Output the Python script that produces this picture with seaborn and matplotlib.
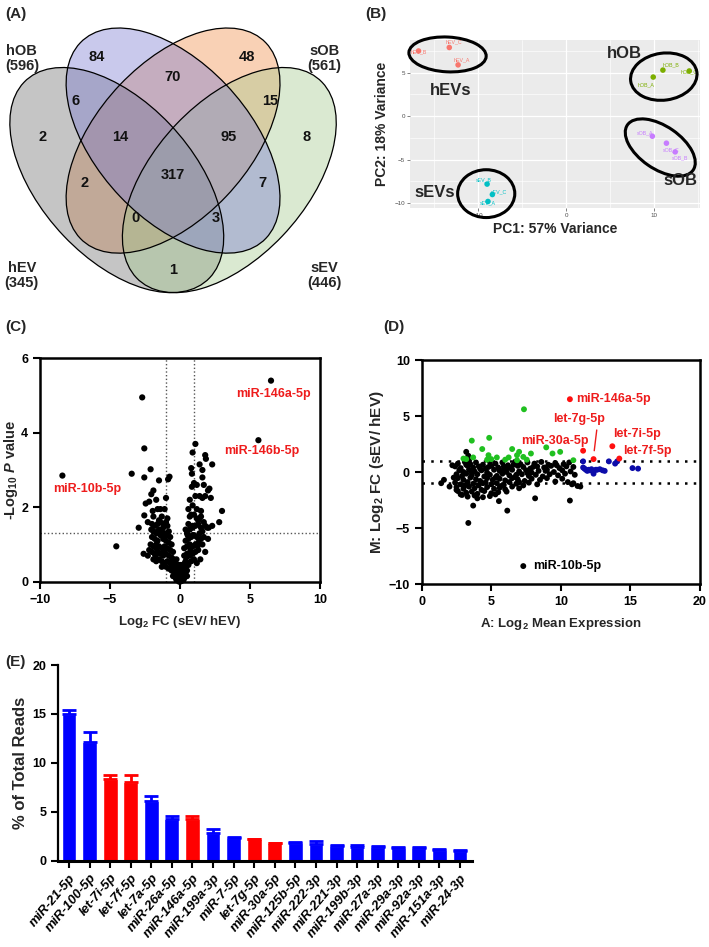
import numpy as np
import pandas as pd
import matplotlib
matplotlib.use('Agg')
import matplotlib.pyplot as plt
from matplotlib.patches import Ellipse
import seaborn as sns

# ---------------- data ----------------
# (A) Venn diagram
venn_names = ['hOB', 'sOB', 'hEV', 'sEV']
venn_totals = [596, 561, 345, 446]
venn_regions = ['hOB', 'sOB', 'hOB&sOB', 'hOB&hEV', 'sOB&sEV', 'hEV', 'hOB&sOB&hEV',
                'hOB&sOB&sEV', 'sEV', 'all', 'sOB&hEV', 'hOB&sEV', 'sOB&hEV&sEV',
                'hOB&hEV&sEV', 'hEV&sEV']
venn_counts = [84, 48, 70, 6, 15, 2, 14, 95, 8, 317, 2, 7, 0, 3, 1]

# (B) PCA
pca_samples = ['hEV_A', 'hEV_B', 'hEV_C', 'hOB_A', 'hOB_B', 'hOB_C',
               'sEV_A', 'sEV_B', 'sEV_C', 'sOB_A', 'sOB_B', 'sOB_C']
pca_group = ['hEV', 'hEV', 'hEV', 'hOB', 'hOB', 'hOB', 'sEV', 'sEV', 'sEV', 'sOB', 'sOB', 'sOB']
pc1 = [-12.3, -16.8, -13.3, 9.9, 11.0, 14.0, -8.9, -9.0, -8.4, 9.8, 12.4, 11.4]
pc2 = [5.9, 7.5, 7.9, 4.5, 5.3, 5.2, -9.8, -7.8, -9.0, -2.3, -4.1, -3.1]

# (C) volcano plot: (log2 FC, -log10 P)
volcano_pts = [
    (6.5, 5.4), (5.6, 3.8), (-8.4, 2.85),
    (-2.7, 4.95), (-2.55, 3.58), (-3.45, 2.9), (-2.55, 2.8), (-2.1, 3.02), (-4.55, 0.95),
    (-2.95, 1.45), (-2.6, 0.75), (-0.75, 2.82), (-0.85, 2.75), (-1.5, 2.72), (-2.45, 2.1),
    (-2.55, 1.78), (-2.2, 2.15), (-2.05, 2.35), (-1.9, 2.45), (-1.95, 1.9), (-1.7, 2.2),
    (-1.6, 1.95), (-1.4, 1.95), (-1.1, 1.95), (-1.0, 2.25), (-2.3, 1.6), (-1.9, 1.75),
    (-1.3, 1.75), (-0.9, 1.7), (-1.5, 1.65),
    (3.0, 1.9), (2.8, 1.6), (1.8, 0.8), (2.3, 3.15), (1.1, 3.7), (0.9, 3.47), (1.8, 3.4),
    (1.85, 3.3), (1.4, 3.15), (1.6, 3.0), (0.8, 3.05), (0.85, 2.9), (1.6, 2.8), (1.0, 2.65),
    (0.85, 2.55), (1.2, 2.6), (2.1, 2.5), (2.0, 2.45), (1.4, 2.3), (1.6, 2.25), (1.8, 2.3),
    (2.2, 2.25), (0.7, 2.2), (0.9, 2.05), (1.2, 1.95), (1.5, 1.9), (1.5, 1.75), (1.95, 1.45),
    (2.05, 1.45), (1.7, 1.2), (0.9, 1.5), (0.8, 1.8), (1.3, 1.65), (2.3, 1.5), (0.6, 1.95),
    (1.1, 2.3), (1.7, 2.6), (2.0, 1.15),
    (-2.0, 1.55), (-1.8, 1.5), (-1.6, 1.55), (-1.4, 1.6), (-1.2, 1.55), (-1.0, 1.6),
    (-0.9, 1.5), (-1.9, 1.35), (-1.7, 1.3), (-1.5, 1.4), (-1.3, 1.35), (-1.1, 1.3),
    (-0.8, 1.35), (-2.0, 1.2), (-1.8, 1.15), (-1.6, 1.1), (-1.2, 1.15), (-1.0, 1.1),
    (-0.7, 1.2), (-2.1, 1.0), (-1.9, 0.95), (-1.7, 0.9), (-1.5, 0.95), (-1.3, 0.9),
    (-1.1, 0.95), (-0.9, 0.9), (-0.6, 1.0), (-2.0, 0.8), (-1.8, 0.75), (-1.6, 0.8),
    (-1.4, 0.75), (-1.2, 0.7), (-1.0, 0.75), (-0.8, 0.7), (-0.5, 0.8), (-2.2, 0.85),
    (-1.9, 0.6), (-1.7, 0.55), (-1.5, 0.6), (-1.3, 0.55), (-1.1, 0.5), (-0.9, 0.55),
    (-0.7, 0.5), (-0.6, 0.65), (-1.2, 1.45), (-0.8, 1.05), (-1.4, 1.25), (-1.7, 1.0),
    (-2.3, 0.7), (-1.0, 0.4), (-0.8, 0.35), (-1.3, 0.4), (-0.6, 0.3), (-1.6, 1.35),
    (-0.95, 1.25), (-1.15, 0.85), (-0.7, 0.85), (-2.05, 1.4), (-1.75, 0.7),
    (0.5, 1.3), (0.7, 1.4), (0.9, 1.45), (1.1, 1.5), (1.3, 1.55), (1.5, 1.45), (1.7, 1.6),
    (0.4, 1.1), (0.6, 1.15), (0.8, 1.2), (1.0, 1.25), (1.2, 1.2), (1.4, 1.3), (1.6, 1.35),
    (0.3, 0.9), (0.5, 0.95), (0.7, 1.0), (0.9, 0.95), (1.1, 1.0), (1.3, 1.05), (1.5, 1.15),
    (0.3, 0.7), (0.5, 0.75), (0.7, 0.7), (0.9, 0.75), (1.1, 0.8), (1.3, 0.85), (0.4, 0.55),
    (0.6, 0.5), (0.8, 0.55), (1.0, 0.6), (1.2, 0.5), (0.2, 0.45), (0.7, 1.75), (1.0, 1.8),
    (1.2, 1.7), (0.6, 1.55), (0.9, 1.25), (1.4, 1.7), (0.4, 1.4), (1.8, 1.5), (1.6, 1.0),
    (0.55, 1.25), (1.25, 0.95), (0.75, 0.85), (1.45, 0.6),
    (-0.6, 0.45), (-0.4, 0.4), (-0.2, 0.35), (0.0, 0.3), (0.2, 0.35), (0.4, 0.4), (0.6, 0.45),
    (-0.5, 0.3), (-0.3, 0.25), (-0.1, 0.2), (0.1, 0.2), (0.3, 0.25), (0.5, 0.3), (-0.4, 0.2),
    (-0.2, 0.15), (0.0, 0.12), (0.2, 0.15), (0.4, 0.2), (-0.3, 0.1), (-0.1, 0.07), (0.1, 0.07),
    (0.3, 0.1), (-0.15, 0.03), (0.0, 0.02), (0.15, 0.03), (-0.05, 0.0), (0.05, 0.01),
    (-0.25, 0.05), (0.25, 0.05), (-0.5, 0.15), (0.5, 0.15), (-0.35, 0.5), (0.35, 0.5),
    (-0.15, 0.45), (0.15, 0.45), (0.0, 0.45), (-0.45, 0.6), (0.45, 0.65), (-0.25, 0.6),
]
volcano_labels = ['miR-146a-5p', 'miR-146b-5p', 'miR-10b-5p']
volcano_label_xy = [(6.7, 5.05), (5.85, 3.5), (-6.6, 2.48)]

# (D) MA plot: (A, M) per group
ma_black = [
    (2.6, 0.75), (3.1, 0.9), (3.5, 0.7), (3.9, 0.85), (4.4, 0.65), (4.9, 0.9), (5.3, 0.75),
    (5.8, 0.85), (6.2, 0.6), (6.7, 0.9), (7.1, 0.7), (7.6, 0.85), (8.1, 0.75), (8.6, 0.9),
    (9.1, 0.65), (9.6, 0.8), (10.2, 0.7), (10.6, 0.85),
    (2.4, 0.5), (2.8, 0.35), (3.3, 0.55), (3.7, 0.4), (4.1, 0.5), (4.6, 0.3), (5.0, 0.55),
    (5.5, 0.4), (5.9, 0.5), (6.4, 0.35), (6.9, 0.55), (7.3, 0.45), (7.8, 0.3), (8.3, 0.5),
    (8.8, 0.4), (9.3, 0.55), (9.9, 0.35), (10.4, 0.5), (10.9, 0.45),
    (2.7, 0.15), (3.0, 0.0), (3.4, 0.2), (3.8, 0.05), (4.3, 0.15), (4.7, -0.05), (5.2, 0.2),
    (5.6, 0.1), (6.1, 0.0), (6.5, 0.2), (7.0, 0.05), (7.5, 0.15), (7.9, -0.05), (8.4, 0.1),
    (9.0, 0.2), (9.5, 0.0), (10.1, 0.15), (10.7, 0.05),
    (2.5, -0.2), (2.9, -0.35), (3.2, -0.15), (3.6, -0.3), (4.0, -0.2), (4.5, -0.4),
    (4.9, -0.25), (5.4, -0.35), (5.8, -0.15), (6.3, -0.3), (6.7, -0.45), (7.2, -0.2),
    (7.7, -0.35), (8.2, -0.25), (8.7, -0.4), (9.2, -0.2), (9.8, -0.3), (10.3, -0.15),
    (11.0, -0.25),
    (2.6, -0.55), (3.0, -0.7), (3.5, -0.5), (3.9, -0.65), (4.2, -0.8), (4.7, -0.55),
    (5.1, -0.7), (5.6, -0.6), (6.0, -0.75), (6.5, -0.55), (6.9, -0.65), (7.4, -0.8),
    (7.9, -0.6), (8.5, -0.7), (9.0, -0.55), (9.6, -0.85), (10.1, -0.6),
    (2.4, -0.95), (2.8, -1.1), (3.3, -0.9), (3.7, -1.05), (4.1, -1.2), (4.6, -0.95),
    (5.0, -1.1), (5.4, -1.0), (5.9, -1.15), (6.3, -0.9), (6.8, -1.05), (7.3, -1.2),
    (7.7, -0.95), (8.3, -1.1), (10.5, -0.9), (10.8, -1.1), (11.2, -1.25),
    (2.5, -1.35), (3.0, -1.5), (3.4, -1.3), (3.8, -1.45), (4.3, -1.6), (4.7, -1.35),
    (5.2, -1.5), (5.6, -1.4), (6.0, -1.55), (6.5, -1.3), (7.0, -1.45),
    (2.6, -1.7), (3.2, -1.85), (3.6, -1.75), (4.0, -1.95), (4.5, -1.7), (5.0, -1.9),
    (5.5, -1.8), (6.1, -1.75),
    (2.9, -2.05), (3.3, -2.2), (3.8, -2.1), (4.4, -2.25), (4.9, -2.15), (5.3, -2.0),
    (2.2, 0.6), (2.3, -0.5), (3.2, 0.65), (4.2, 0.3), (5.3, -0.5), (6.1, 0.35), (7.0, -0.9),
    (8.0, 0.45), (3.6, -0.05), (4.8, 0.45), (5.7, -1.25), (6.6, 0.65), (7.6, -0.1),
    (8.9, 0.1), (9.7, 0.6), (4.4, -1.0), (3.1, -1.2), (5.9, 0.25), (6.8, -0.25), (3.4, 1.0),
    (1.4, -1.0), (1.6, -0.7), (2.0, -1.3), (2.5, -1.6), (2.8, -2.0), (3.2, 1.8), (3.35, 1.45),
    (3.35, -4.55), (3.7, -3.0), (4.0, -2.35), (5.55, -2.6), (6.15, -3.45), (8.15, -2.35),
    (10.65, -2.55), (11.4, -1.3), (10.9, -1.0), (7.3, -8.4),
]
ma_green = [
    (7.35, 5.6), (3.6, 2.8), (4.85, 3.05), (4.35, 2.05), (8.95, 2.2), (9.95, 1.8), (9.4, 1.65),
    (7.85, 1.65), (6.5, 2.05), (7.0, 1.8), (3.0, 1.2), (3.2, 1.15), (3.7, 1.3), (4.8, 1.5),
    (5.0, 1.15), (5.4, 1.3), (6.0, 1.1), (6.25, 1.3), (6.85, 1.5), (6.85, 1.05), (7.3, 1.35),
    (7.55, 1.1), (10.9, 1.05), (4.7, 1.1),
]
ma_blue = [
    (11.6, 0.95), (11.7, 0.3), (11.8, 0.2), (11.9, 0.1), (12.0, 0.2), (12.1, 0.15),
    (12.2, 0.25), (12.3, 0.1), (12.35, -0.15), (12.5, 0.2), (12.6, 0.2), (12.8, 0.25),
    (13.0, 0.15), (13.15, 0.1), (13.45, 0.95), (13.9, 0.75), (14.05, 0.95), (15.15, 0.35),
    (15.55, 0.3), (11.6, 0.4),
]
ma_red = [(10.65, 6.5), (12.35, 1.15), (11.6, 1.9), (13.7, 2.3), (14.2, 1.2)]
ma_red_names = ['miR-146a-5p', 'let-7g-5p', 'miR-30a-5p', 'let-7i-5p', 'let-7f-5p']

# (E) most abundant miRNAs in sEV
top_mirna = ['miR-21-5p', 'miR-100-5p', 'let-7i-5p', 'let-7f-5p', 'let-7a-5p', 'miR-26a-5p',
             'miR-146a-5p', 'miR-199a-3p', 'miR-7-5p', 'let-7g-5p', 'miR-30a-5p',
             'miR-125b-5p', 'miR-222-3p', 'miR-221-3p', 'miR-199b-3p', 'miR-27a-3p',
             'miR-29a-3p', 'miR-92a-3p', 'miR-151a-3p', 'miR-24-3p']
pct_reads = [15.0, 12.1, 8.3, 8.0, 6.1, 4.3, 4.3, 2.8, 2.3, 2.2, 1.8, 1.8, 1.75, 1.5, 1.45,
             1.4, 1.3, 1.3, 1.1, 1.0]
pct_err = [0.4, 1.1, 0.5, 0.8, 0.5, 0.3, 0.3, 0.4, 0.08, 0.05, 0.05, 0.15, 0.3, 0.1, 0.2,
           0.1, 0.08, 0.05, 0.12, 0.1]
highlighted = ['let-7i-5p', 'let-7f-5p', 'miR-146a-5p', 'let-7g-5p', 'miR-30a-5p']

# ---------------- style ----------------
sns.set_theme(style='ticks')
plt.rcParams['font.family'] = ['Liberation Sans', 'DejaVu Sans']
plt.rcParams['font.weight'] = 'bold'
plt.rcParams['axes.labelweight'] = 'bold'
plt.rcParams['mathtext.fontset'] = 'custom'
plt.rcParams['mathtext.rm'] = 'Liberation Sans:bold'
plt.rcParams['mathtext.it'] = 'Liberation Sans:bold:italic'
plt.rcParams['mathtext.bf'] = 'Liberation Sans:bold'

W, H = 709, 947
fig = plt.figure(figsize=(W / 100, H / 100), dpi=100)


def px_axes(x0, y0, x1, y1):
    # axes from pixel box (top-left origin)
    return fig.add_axes([x0 / W, 1 - y1 / H, (x1 - x0) / W, (y1 - y0) / H])


def style_prism(ax):
    for s in ax.spines.values():
        s.set_linewidth(1.8)
        s.set_color('black')
    ax.tick_params(width=1.5, length=5, labelsize=9, colors='black', direction='out')
    for lab in ax.get_xticklabels() + ax.get_yticklabels():
        lab.set_fontweight('bold')


# ---------------- (A) Venn ----------------
axA = px_axes(0, 0, 355, 310)
axA.set_xlim(0.0387, 0.985)
axA.set_ylim(0.071, 0.856)
axA.axis('off')
# draw order: sOB, hEV, sEV, hOB (hOB tint on top)
venn_geom = {'hOB': ((0.5, 0.5), -45), 'sOB': ((0.5, 0.5), 45),
             'hEV': ((0.35, 0.4), -45), 'sEV': ((0.65, 0.4), 45)}
venn_colors = {'hOB': '#7878d0', 'sOB': '#f08c48', 'hEV': '#6e6e6e', 'sEV': '#a4c88c'}
for nm in ['sOB', 'hEV', 'sEV', 'hOB']:
    c, ang = venn_geom[nm]
    axA.add_patch(Ellipse(c, 0.7, 0.4, angle=ang, facecolor=venn_colors[nm], alpha=0.4,
                          edgecolor='none'))
for nm in venn_names:
    c, ang = venn_geom[nm]
    axA.add_patch(Ellipse(c, 0.7, 0.4, angle=ang, facecolor='none', edgecolor='black', lw=0.9))
region_pos = [(0.297, 0.712), (0.697, 0.712), (0.5, 0.661), (0.241, 0.600), (0.759, 0.600),
              (0.151, 0.509), (0.359, 0.509), (0.649, 0.509), (0.855, 0.509), (0.5, 0.413),
              (0.265, 0.393), (0.737, 0.393), (0.401, 0.304), (0.615, 0.304), (0.5, 0.172)]
for (u, v), n in zip(region_pos, venn_counts):
    axA.text(u, v, str(n), ha='center', va='center', fontsize=10.5, fontweight='bold', color='#111111')
name_pos = [(0.097, 0.708), (0.903, 0.708), (0.097, 0.158), (0.903, 0.158)]
for (u, v), nm, tot in zip(name_pos, venn_names, venn_totals):
    axA.text(u, v, f'{nm}\n({tot})', ha='center', va='center', fontsize=10.5,
             fontweight='bold', linespacing=1.1)
fig.text(5 / W, 1 - 14 / H, '(A)', fontsize=11, fontweight='bold', va='center')

# ---------------- (B) PCA ----------------
axB = px_axes(410, 40, 700, 208)
pca_df = pd.DataFrame({'PC1': pc1, 'PC2': pc2, 'group': pca_group, 'sample': pca_samples})
gg_pal = {'hEV': '#F8766D', 'hOB': '#7CAE00', 'sEV': '#00BFC4', 'sOB': '#C77CFF'}
axB.set_facecolor('#EBEBEB')
axB.set_xlim(-17.77, 15.22)
axB.set_ylim(-10.55, 8.76)
axB.set_xticks([-15, -5, 5, 15], minor=True)
axB.set_yticks([-7.5, -2.5, 2.5, 7.5], minor=True)
axB.grid(True, which='major', color='white', lw=0.9)
axB.grid(True, which='minor', color='white', lw=0.45)
axB.set_axisbelow(True)
sns.scatterplot(data=pca_df, x='PC1', y='PC2', hue='group', palette=gg_pal, s=16,
                edgecolor='none', legend=False, ax=axB, zorder=3)
lab_dx = [0.4, 0.0, 0.5, -0.8, 0.9, 0.0, 0.0, -0.4, 0.8, -0.8, 0.5, 0.6]
lab_dy = [0.6, -0.1, 0.7, -0.9, 0.6, -0.1, -0.2, 0.5, 0.3, 0.4, -0.7, -0.8]
for x, y, nm, g, dx, dy in zip(pc1, pc2, pca_samples, pca_group, lab_dx, lab_dy):
    axB.text(x + dx, y + dy, nm, color=gg_pal[g], fontsize=3.8, fontweight='normal',
             ha='center', va='center', zorder=4)
for c, w, h, a in [((-13.5, 7.1), 8.8, 4.0, -3), ((11.1, 4.55), 7.6, 5.4, 8),
                   ((10.7, -3.6), 9.1, 4.9, -35), ((-9.1, -8.9), 6.5, 5.5, 0)]:
    axB.add_patch(Ellipse(c, w, h, angle=a, facecolor='none', edgecolor='black', lw=2.2,
                          clip_on=False, zorder=5))
for x, y, t in [(-13.1, 3.0, 'hEVs'), (6.6, 7.25, 'hOB'), (13.05, -7.35, 'sOB'),
                (-15.0, -8.75, 'sEVs')]:
    axB.text(x, y, t, fontsize=12, fontweight='bold', ha='center', va='center', zorder=6)
for s in axB.spines.values():
    s.set_visible(False)
axB.set_xticks([-10, 0, 10])
axB.set_yticks([-10, -5, 0, 5])
axB.tick_params(which='major', length=2, width=0.5, colors='#4d4d4d', labelsize=4.5, pad=1.5)
axB.tick_params(which='minor', length=0)
for lab in axB.get_xticklabels() + axB.get_yticklabels():
    lab.set_fontweight('normal')
axB.set_xlabel('PC1: 57% Variance', fontsize=10, fontweight='bold', labelpad=3)
axB.set_ylabel('PC2: 18% Variance', fontsize=10, fontweight='bold', labelpad=4)
fig.text(365 / W, 1 - 14 / H, '(B)', fontsize=11, fontweight='bold', va='center')

# ---------------- (C) Volcano ----------------
axC = px_axes(40, 358.3, 320, 581.7)
volc_df = pd.DataFrame(volcano_pts, columns=['log2fc', 'nlogp'])
sns.scatterplot(data=volc_df, x='log2fc', y='nlogp', color='black', s=20, edgecolor='none',
                ax=axC, zorder=3, clip_on=False)
axC.axvline(-1, color='#555555', ls=':', lw=1.0)
axC.axvline(1, color='#555555', ls=':', lw=1.0)
axC.axhline(1.3, color='#555555', ls=':', lw=1.0)
for (x, y), t in zip(volcano_label_xy, volcano_labels):
    axC.text(x, y, t, color='#ee1c1c', fontsize=9, fontweight='bold', ha='center', va='center')
axC.set_xlim(-10, 10)
axC.set_ylim(0, 6)
axC.set_xticks([-10, -5, 0, 5, 10])
axC.set_yticks([0, 2, 4, 6])
style_prism(axC)
axC.set_xlabel(r'Log$_{2}$ FC (sEV/ hEV)', fontsize=9.5, labelpad=6)
axC.set_ylabel(r'-Log$_{10}$ $\it{P}$ value', fontsize=10.5, labelpad=1)
fig.text(5 / W, 1 - 327 / H, '(C)', fontsize=11, fontweight='bold', va='center')

# ---------------- (D) MA plot ----------------
axD = px_axes(421.7, 360, 700, 584)
ma_rows = ([(a, m, 'ns') for a, m in ma_black] + [(a, m, 'up') for a, m in ma_green] +
           [(a, m, 'abundant') for a, m in ma_blue] + [(a, m, 'top') for a, m in ma_red])
ma_df = pd.DataFrame(ma_rows, columns=['A', 'M', 'group'])
ma_pal = {'ns': 'black', 'up': '#20c020', 'abundant': '#0c0caa', 'top': '#ff1010'}
axD.axhline(1, color='black', ls=(0, (1, 2.5)), lw=1.8, zorder=1)
axD.axhline(-1, color='black', ls=(0, (1, 2.5)), lw=1.8, zorder=1)
sns.scatterplot(data=ma_df, x='A', y='M', hue='group', palette=ma_pal, s=18, edgecolor='none',
                legend=False, ax=axD, zorder=3)
red_text_xy = [(11.1, 6.5, 'left'), (11.3, 4.7, 'center'), (9.6, 2.75, 'center'),
               (13.75, 3.4, 'left'), (14.5, 1.9, 'left')]
for (x, y, ha), t in zip(red_text_xy, ma_red_names):
    axD.text(x, y, t, color='#ee1c1c', fontsize=9, fontweight='bold', ha=ha, va='center')
axD.plot([12.58, 12.4], [3.75, 1.9], color='#ee1c1c', lw=1.0)
axD.text(8.0, -8.4, 'miR-10b-5p', color='black', fontsize=9, fontweight='bold', va='center')
axD.set_xlim(0, 20)
axD.set_ylim(-10, 10)
axD.set_xticks([0, 5, 10, 15, 20])
axD.set_yticks([-10, -5, 0, 5, 10])
style_prism(axD)
axD.set_xlabel(r'A: Log$_{2}$ Mean Expression', fontsize=9.5, labelpad=6)
axD.set_ylabel(r'M: Log$_{2}$ FC (sEV/ hEV)', fontsize=11, labelpad=2)
fig.text(383 / W, 1 - 327 / H, '(D)', fontsize=11, fontweight='bold', va='center')

# ---------------- (E) bar chart ----------------
axE = px_axes(58.3, 665, 471.7, 860.7)
bar_df = pd.DataFrame({'mirna': top_mirna, 'pct': pct_reads, 'err': pct_err})
bar_cols = ['#ff0000' if m in highlighted else '#0000ff' for m in top_mirna]
sns.barplot(data=bar_df, x='mirna', y='pct', hue='mirna', palette=bar_cols, legend=False,
            width=0.72, saturation=1, ax=axE)
for i, (v, e, c) in enumerate(zip(pct_reads, pct_err, bar_cols)):
    axE.errorbar(i, v, yerr=[[0], [e]], fmt='none', ecolor=c, elinewidth=2, capsize=5,
                 capthick=2, zorder=1)
axE.set_xlim(-0.52, 19.57)
axE.set_ylim(0, 20)
axE.set_yticks([0, 5, 10, 15, 20])
sns.despine(ax=axE)
style_prism(axE)
axE.spines['left'].set_linewidth(1.6)
axE.spines['bottom'].set_linewidth(2.2)
axE.set_xticks(range(len(top_mirna)))
axE.set_xticklabels(top_mirna, rotation=50, ha='right', rotation_mode='anchor',
                    fontsize=9.5, fontweight='bold', fontstyle='italic')
axE.tick_params(axis='x', pad=3)
axE.set_xlabel('')
axE.set_ylabel('% of Total Reads', fontsize=12, labelpad=3)
fig.text(5 / W, 1 - 662 / H, '(E)', fontsize=11, fontweight='bold', va='center')

fig.savefig('out.png', dpi=100)
